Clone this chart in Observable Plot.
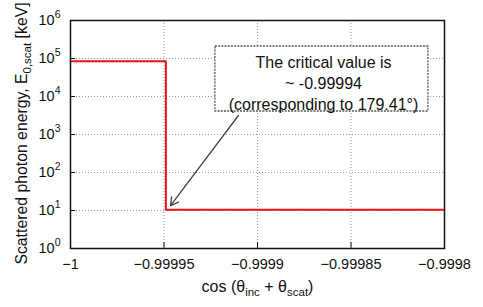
<!DOCTYPE html>
<html><head><meta charset="utf-8">
<script src="https://cdn.jsdelivr.net/npm/d3@7"></script>
<script src="https://cdn.jsdelivr.net/npm/@observablehq/plot@0.6"></script>
<style>body{margin:0;background:#fff}</style>
</head><body><div id="chart"></div>
<script>
// ---- data ----
const xTicks = [-1, -0.99995, -0.9999, -0.99985, -0.9998];
const xTickLabels = ["\u22121", "\u22120.99995", "\u22120.9999", "\u22120.99985", "\u22120.9998"];
const yTicks = [1, 10, 100, 1e3, 1e4, 1e5, 1e6];
const yExponents = ["0", "1", "2", "3", "4", "5", "6"];
const cosValues = [-1, -0.999949, -0.9998];
const energyKeV = [8.5e4, 10.5, 10.5];
const noteLines = ["The critical value is", "~ -0.99994", "(corresponding to 179.41\u00b0)"];
const noteCenter = [{x: -0.9998647, y: 23500}];
const noteBox = [{x1: -0.9999225, x2: -0.9998086, y1: 4027, y2: 2.07e5}];
const noteArrow = [{x1: -0.9999102, y1: 3162, x2: -0.9999465, y2: 13.5}];
const xTitle = "cos (\u03b8inc + \u03b8scat)";
const yTitle = "Scattered photon energy, E0,scat [keV]";

const series = cosValues.map((x, i) => ({x, y: energyKeV[i]}));
const FONT = '"Liberation Sans", Arial, Helvetica, sans-serif';

const svg = Plot.plot({
  width: 483, height: 307,
  marginLeft: 70, marginRight: 39, marginTop: 20, marginBottom: 59,
  style: {fontFamily: FONT, fontSize: "14.5px", color: "#222", background: "#fff"},
  x: {domain: [-1, -0.9998]},
  y: {type: "log", domain: [1, 1e6]},
  marks: [
    Plot.gridX(xTicks, {stroke: "#999", strokeOpacity: 1, strokeDasharray: "1,2"}),
    Plot.gridY(yTicks, {stroke: "#999", strokeOpacity: 1, strokeDasharray: "1,2"}),
    Plot.line(series, {x: "x", y: "y", curve: "step-after", stroke: "#e8141c", strokeWidth: 2}),
    Plot.rect(noteBox, {x1: "x1", x2: "x2", y1: "y1", y2: "y2", fill: "white", stroke: "#555", strokeWidth: 1.3, strokeDasharray: "2,1.2"}),
    Plot.text(noteCenter, {x: "x", y: "y", text: () => noteLines.join("\n"), lineHeight: 1.3, fontSize: 16, fill: "#111"}),
    Plot.arrow(noteArrow, {x1: "x1", y1: "y1", x2: "x2", y2: "y2", stroke: "#444", strokeWidth: 1.3, headLength: 10}),
    Plot.frame({stroke: "#111", strokeWidth: 1.5}),
    Plot.axisX(xTicks, {tickSize: -6, tickPadding: 16, tickFormat: d => xTickLabels[xTicks.indexOf(d)], label: null, stroke: "#111", fill: "#111"}),
    Plot.axisY(yTicks, {tickSize: -5, tickPadding: 15, tickFormat: d => "10^" + yExponents[yTicks.indexOf(d)], label: null, stroke: "#111", fill: "#111"}),
    Plot.text([xTitle], {frameAnchor: "bottom", dy: 43, text: d => d, fill: "#111", fontSize: 16}),
    Plot.text([yTitle], {frameAnchor: "left", textAnchor: "middle", dx: -49, dy: -1, rotate: -90, text: d => d, fill: "#111", fontSize: 15.8})
  ]
});
document.getElementById("chart").appendChild(svg);

// ---- rich text (superscripts / subscripts) ----
const NS = "http://www.w3.org/2000/svg";
function rich(el, parts, subSize) {
  el.textContent = "";
  let cur = 0;
  for (const [s, kind] of parts) {
    const t = document.createElementNS(NS, "tspan");
    const target = kind === "sub" ? 4.5 : kind === "sup" ? -7 : 0;
    t.setAttribute("dy", (target - cur) + "px");
    cur = target;
    if (kind) t.setAttribute("font-size", subSize + "px");
    t.textContent = s;
    el.appendChild(t);
  }
}
svg.querySelectorAll("text").forEach(el => {
  const s = el.textContent;
  if (/^10\^\d$/.test(s)) {
    const [b, e] = s.split("^");
    rich(el, [[b, null], [e, "sup"]], 10.5);
  } else if (s === xTitle) {
    rich(el, [["cos (\u03b8", null], ["inc", "sub"], [" + \u03b8", null], ["scat", "sub"], [")", null]], 11.5);
  } else if (s === yTitle) {
    rich(el, [["Scattered photon energy, E", null], ["0,scat", "sub"], [" [keV]", null]], 11.5);
  }
});
</script>
</body></html>
